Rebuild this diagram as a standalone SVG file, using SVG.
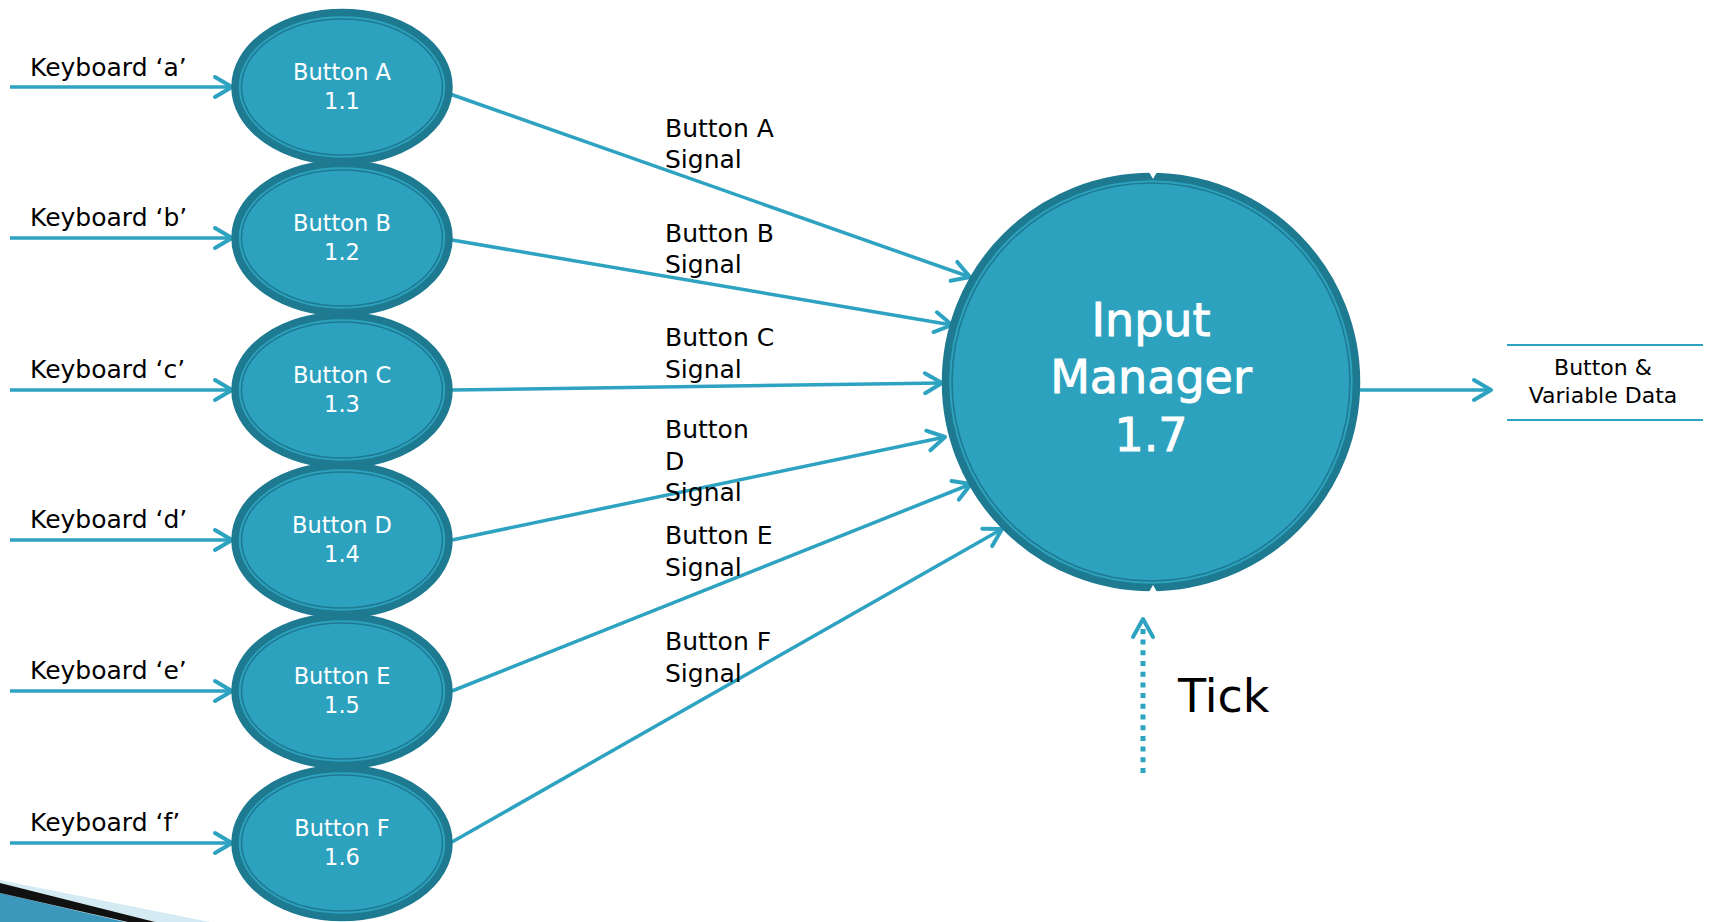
<svg xmlns="http://www.w3.org/2000/svg" width="1712" height="922" viewBox="0 0 1712 922">
<defs>
<style>
.t{font-family:"DejaVu Sans",Verdana,sans-serif}
.kb{font-size:25px;fill:#000}
.sig{font-size:25px;fill:#000}
.bt{font-size:22.5px;fill:#fff;text-anchor:middle}
.im{font-size:46px;fill:#fff;text-anchor:middle;stroke:#fff;stroke-width:0.9}
.ds{font-size:22px;fill:#000;text-anchor:middle}
.tk{font-size:46px;fill:#000}
.ln{fill:none;stroke:#2ea3c1;stroke-width:3.5;marker-end:url(#arr)}
.outer{fill:#2da2bf;stroke:#1e7a91;stroke-width:7.5}
.inner{fill:none;stroke:#1e7a91;stroke-width:1.6}
</style>
<marker id="arr" markerUnits="userSpaceOnUse" markerWidth="40" markerHeight="40" refX="20" refY="20" orient="auto" overflow="visible">
<path d="M3,10 L20,20 L3,30" fill="none" stroke="#2ea3c1" stroke-width="4" stroke-linecap="round" stroke-linejoin="round"/>
</marker>
</defs>
<rect width="1712" height="922" fill="#fff"/>

<g id="decoration">
<polygon points="0,880 210,922 0,922" fill="#d4ebf3"/>
<polygon points="0,893 125,922 0,922" fill="#3b97bb"/>
<polygon points="0,883 155,922 128,922 0,893" fill="#111"/>
</g>

<g id="connectors">
<line class="ln" x1="10" y1="87" x2="232" y2="87"/>
<line class="ln" x1="10" y1="238" x2="232" y2="238"/>
<line class="ln" x1="10" y1="390" x2="232" y2="390"/>
<line class="ln" x1="10" y1="540" x2="232" y2="540"/>
<line class="ln" x1="10" y1="691" x2="232" y2="691"/>
<line class="ln" x1="10" y1="843" x2="232" y2="843"/>
<line class="ln" x1="450" y1="94" x2="970" y2="277"/>
<line class="ln" x1="452" y1="240" x2="952" y2="325"/>
<line class="ln" x1="452" y1="390" x2="942" y2="383"/>
<line class="ln" x1="452" y1="540" x2="945" y2="437"/>
<line class="ln" x1="452" y1="691" x2="971" y2="484"/>
<line class="ln" x1="452" y1="842" x2="1002" y2="529"/>
<line class="ln" x1="1360" y1="390" x2="1491" y2="390"/>
<line x1="1143" y1="773" x2="1143" y2="628" stroke="#2ea3c1" stroke-width="5" stroke-dasharray="5 5.7"/>
<path d="M1133,637 L1143,619 L1153,637" fill="none" stroke="#2ea3c1" stroke-width="4" stroke-linecap="round" stroke-linejoin="round"/>
</g>

<g id="connector-labels" class="t">
<text class="kb" x="30" y="76">Keyboard ‘a’</text>
<text class="kb" x="30" y="226">Keyboard ‘b’</text>
<text class="kb" x="30" y="378">Keyboard ‘c’</text>
<text class="kb" x="30" y="528">Keyboard ‘d’</text>
<text class="kb" x="30" y="679">Keyboard ‘e’</text>
<text class="kb" x="30" y="831">Keyboard ‘f’</text>
<text class="sig" x="665" y="137">Button A</text>
<text class="sig" x="665" y="168">Signal</text>
<text class="sig" x="665" y="242">Button B</text>
<text class="sig" x="665" y="273">Signal</text>
<text class="sig" x="665" y="346">Button C</text>
<text class="sig" x="665" y="378">Signal</text>
<text class="sig" x="665" y="438">Button</text>
<text class="sig" x="665" y="470">D</text>
<text class="sig" x="665" y="501">Signal</text>
<text class="sig" x="665" y="544">Button E</text>
<text class="sig" x="665" y="576">Signal</text>
<text class="sig" x="665" y="650">Button F</text>
<text class="sig" x="665" y="682">Signal</text>
<text class="tk" x="1178" y="712">Tick</text>
</g>

<g id="btnA"><ellipse class="outer" cx="342" cy="87" rx="107" ry="74.5"/><ellipse class="inner" cx="342" cy="87" rx="100.5" ry="68"/><text class="t bt" x="342" y="80">Button A</text><text class="t bt" x="342" y="109">1.1</text></g>
<g id="btnB"><ellipse class="outer" cx="342" cy="238" rx="107" ry="74.5"/><ellipse class="inner" cx="342" cy="238" rx="100.5" ry="68"/><text class="t bt" x="342" y="231">Button B</text><text class="t bt" x="342" y="260">1.2</text></g>
<g id="btnC"><ellipse class="outer" cx="342" cy="390" rx="107" ry="74.5"/><ellipse class="inner" cx="342" cy="390" rx="100.5" ry="68"/><text class="t bt" x="342" y="383">Button C</text><text class="t bt" x="342" y="412">1.3</text></g>
<g id="btnD"><ellipse class="outer" cx="342" cy="540" rx="107" ry="74.5"/><ellipse class="inner" cx="342" cy="540" rx="100.5" ry="68"/><text class="t bt" x="342" y="533">Button D</text><text class="t bt" x="342" y="562">1.4</text></g>
<g id="btnE"><ellipse class="outer" cx="342" cy="691" rx="107" ry="74.5"/><ellipse class="inner" cx="342" cy="691" rx="100.5" ry="68"/><text class="t bt" x="342" y="684">Button E</text><text class="t bt" x="342" y="713">1.5</text></g>
<g id="btnF"><ellipse class="outer" cx="342" cy="843" rx="107" ry="74.5"/><ellipse class="inner" cx="342" cy="843" rx="100.5" ry="68"/><text class="t bt" x="342" y="836">Button F</text><text class="t bt" x="342" y="865">1.6</text></g>

<g id="inputManager">
<circle class="outer" cx="1151" cy="382" r="205.5"/>
<circle class="inner" cx="1151" cy="382" r="199"/>
<path d="M1149,172 L1157,172 L1153,179 Z M1149,592 L1157,592 L1153,585 Z" fill="#fff"/>
<text class="t im" x="1151" y="336">Input</text>
<text class="t im" x="1151" y="393">Manager</text>
<text class="t im" x="1151" y="451">1.7</text>
</g>

<g id="dataStore">
<line x1="1507" y1="345" x2="1703" y2="345" stroke="#2ea3c1" stroke-width="2"/>
<line x1="1507" y1="420" x2="1703" y2="420" stroke="#2ea3c1" stroke-width="2"/>
<text class="t ds" x="1603" y="375">Button &amp;</text>
<text class="t ds" x="1603" y="403">Variable Data</text>
</g>
</svg>
